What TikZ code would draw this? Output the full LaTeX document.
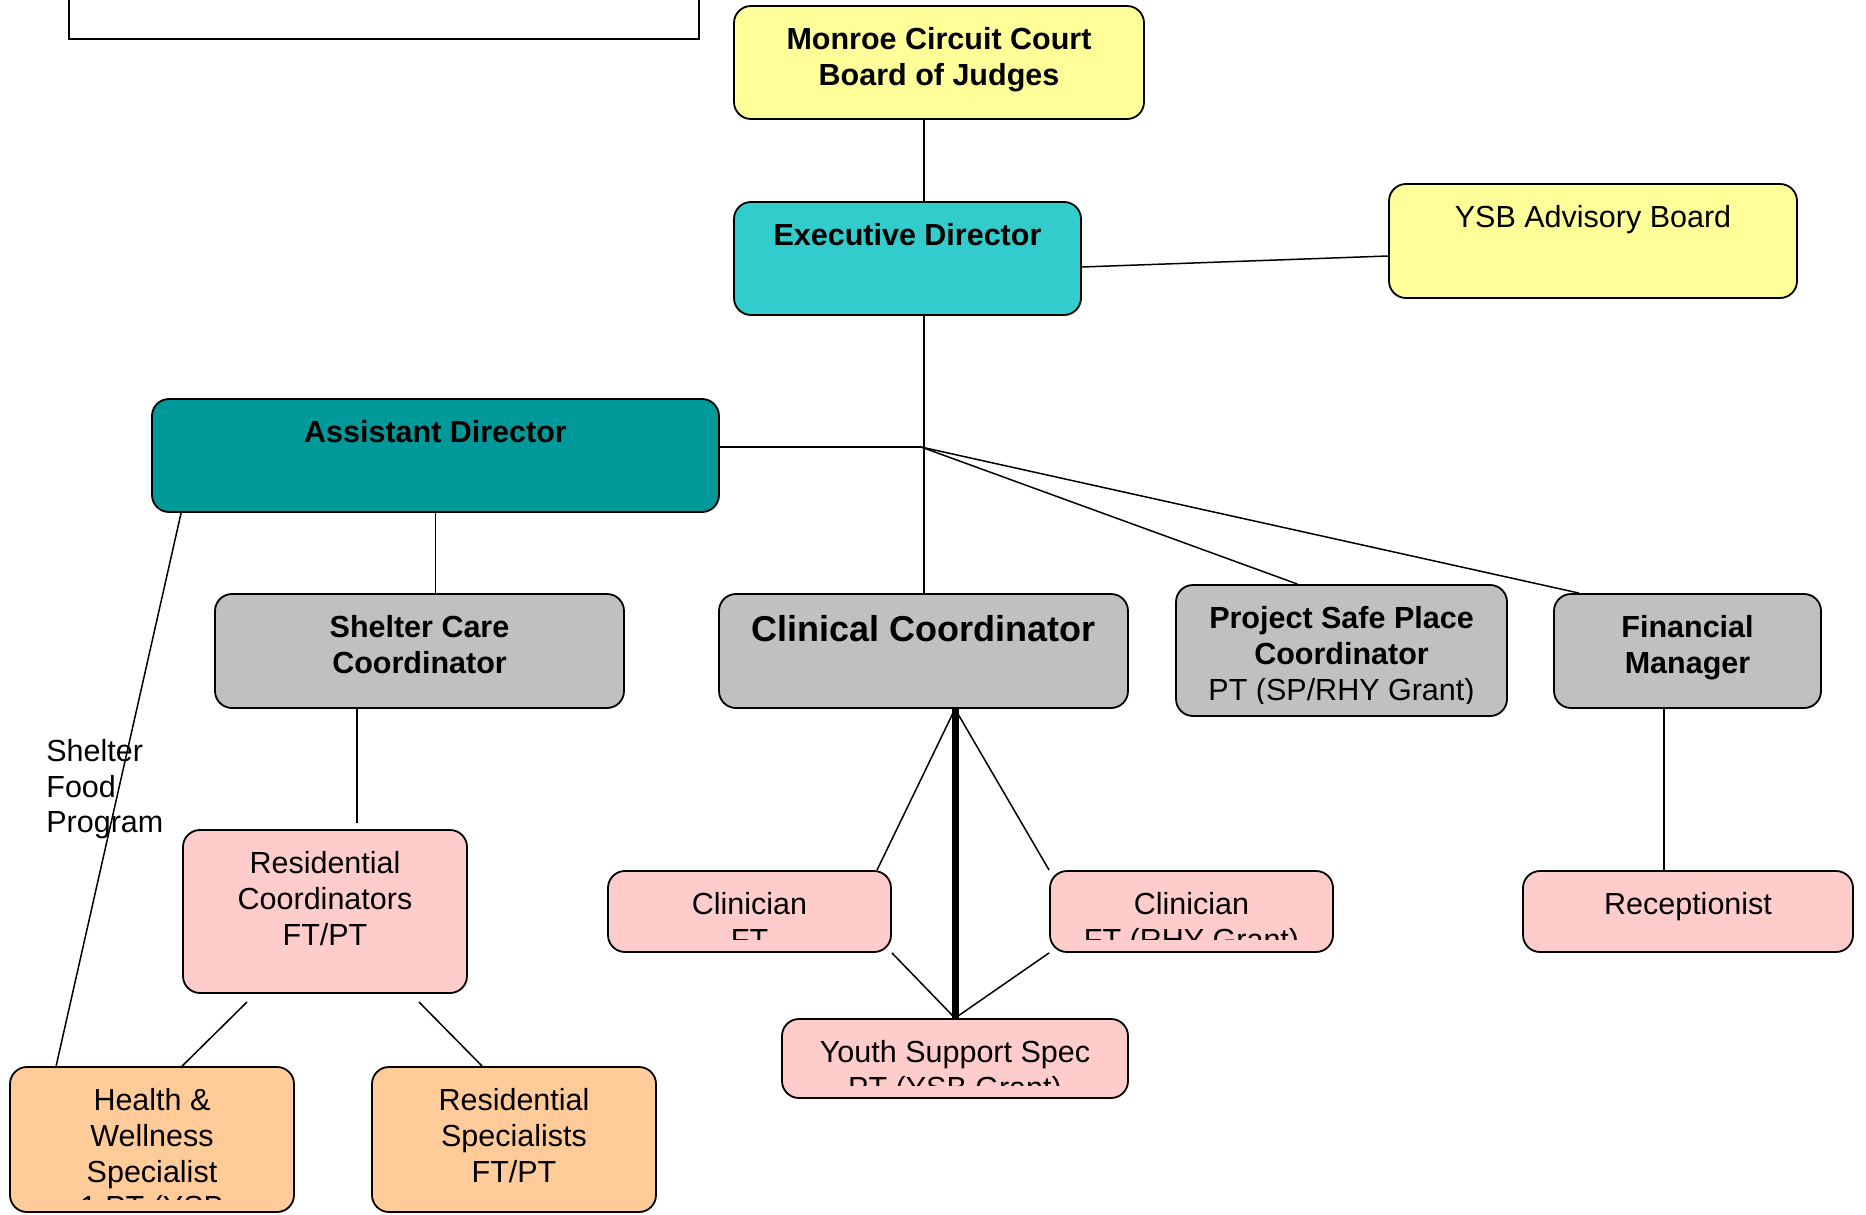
\documentclass[tikz,border=0pt]{standalone}
\usepackage{fontspec}
\setmainfont{Liberation Sans}
\usepackage{xcolor}
\definecolor{Court}{HTML}{FFFF99}
\definecolor{Exec}{HTML}{33CCCC}
\definecolor{Assist}{HTML}{009999}
\definecolor{Coord}{HTML}{C0C0C0}
\definecolor{Staff}{HTML}{FFCCCC}
\definecolor{Shelter}{HTML}{FFCC99}
\usepackage{tikz}
\usetikzlibrary{positioning,calc}

\begin{document}
\begin{tikzpicture}[
  x=0.5pt, y=-0.5pt,
  font=\fontsize{15.25pt}{17.85pt}\selectfont,
  unit/.style={draw, rounded corners=8.5pt, line width=0.9pt, inner sep=0pt},
  say/.style={path picture={
    \clip ([yshift=6.5pt]path picture bounding box.south west)
      rectangle (path picture bounding box.north east);
    \node[anchor=north, align=center, inner sep=0pt,
      minimum width=0pt, minimum height=0pt]
      at ([yshift=-10.4pt]path picture bounding box.north) {#1};}},
  link/.style={line width=0.75pt},
  trunk/.style={line width=3.5pt}
]
  \useasboundingbox (0,0) rectangle (1866,1214);
  \node[draw, line width=0.9pt, minimum width=315pt, minimum height=49.5pt]
    (legend) at (384,-10.5) {};
  \node[unit, fill=Court, minimum width=205pt, minimum height=56.5pt,
    say={\textbf{Monroe Circuit Court}\\\textbf{Board of Judges}}]
    (monroe) at (939,62.5) {};
  \node[unit, fill=Exec, minimum width=173.5pt, minimum height=56.5pt,
    say={\textbf{Executive Director}}] (exec) at (907.5,258.5) {};
  \node[unit, fill=Court, minimum width=204pt, minimum height=57pt,
    say={YSB Advisory Board}] (ysb) at (1593,241) {};
  \node[unit, fill=Assist, minimum width=283.5pt, minimum height=56.5pt,
    say={\textbf{Assistant Director}}] (asst) at (435.5,455.5) {};
  \node[unit, fill=Coord, minimum width=204.5pt, minimum height=57pt,
    say={\textbf{Shelter Care}\\\textbf{Coordinator}}] (shelter) at (419.5,651) {};
  \node[unit, fill=Coord, minimum width=204.5pt, minimum height=57pt,
    say={\fontsize{18pt}{21pt}\selectfont\bfseries Clinical Coordinator}]
    (clinical) at (923.5,651) {};
  \node[unit, fill=Coord, minimum width=165.5pt, minimum height=65.5pt,
    say={\textbf{Project Safe Place}\\\textbf{Coordinator}\\PT (SP/RHY Grant)}]
    (psp) at (1341.5,650.5) {};
  \node[unit, fill=Coord, minimum width=133.5pt, minimum height=57pt,
    say={\textbf{Financial}\\\textbf{Manager}}] (fin) at (1687.5,651) {};
  \node[unit, fill=Staff, minimum width=142pt, minimum height=81.5pt,
    say={Residential\\Coordinators\\FT/PT}] (rescoord) at (325,911.5) {};
  \node[unit, fill=Staff, minimum width=141.5pt, minimum height=40.5pt,
    say={Clinician\\FT}] (clin1) at (749.5,911.5) {};
  \node[unit, fill=Staff, minimum width=141.5pt, minimum height=40.5pt,
    say={Clinician\\FT (RHY Grant)}] (clin2) at (1191.5,911.5) {};
  \node[unit, fill=Staff, minimum width=165pt, minimum height=40.5pt,
    say={Receptionist}] (recep) at (1688,911.5) {};
  \node[unit, fill=Staff, minimum width=173pt, minimum height=39.5pt,
    say={Youth Support Spec\\PT (YSB Grant)}] (yss) at (955,1058.5) {};
  \node[unit, fill=Shelter, minimum width=142pt, minimum height=72.5pt,
    say={Health \&\\Wellness\\Specialist\\1 PT (YSB}] (hw) at (152,1139.5) {};
  \node[unit, fill=Shelter, minimum width=142pt, minimum height=72.5pt,
    say={Residential\\Specialists\\FT/PT}] (ressp) at (514,1139.5) {};
  \node[anchor=north west, align=left, inner sep=0pt]
    (food) at (46,739) {Shelter\\Food\\Program};

  \coordinate (hub) at (921,447);
  \coordinate (spine) at (924,0);
  \coordinate (resin) at (357,823);
  \coordinate (hwout) at (247,1002);
  \coordinate (rsout) at (419,1002);
  \draw[link] (monroe.south -| spine) -- (exec.north -| spine);
  \draw[link] ([yshift=-4.25pt]exec.east) -- ([yshift=-7.5pt]ysb.west);
  \draw[link] (exec.south -| spine) -- (clinical.north -| spine);
  \draw[link] (asst.east |- hub) -- (hub);
  \draw[link] (hub) -- ([xshift=-22pt]psp.north);
  \draw[link] (hub) -- ([xshift=13pt]fin.north west);
  \draw[link] (asst.south) -- (asst.south |- shelter.north);
  \draw[link] ([xshift=15pt]asst.south west) -- ([xshift=23.5pt]hw.north west);
  \draw[link] (shelter.south -| resin) -- (resin);
  \draw[link] (hwout) -- ([xshift=86.5pt]hw.north west);
  \draw[link] (rsout) -- ([xshift=55.5pt]ressp.north west);
  \draw[trunk] (yss.north |- clinical.south) -- (yss.north);
  \draw[link] (yss.north |- clinical.south) -- ([xshift=63.75pt]clin1.north);
  \draw[link] (yss.north |- clinical.south) -- (clin2.north west);
  \draw[link] (clin1.south east) -- (yss.north);
  \draw[link] (clin2.south west) -- (yss.north);
  \draw[link] ([xshift=-11.75pt]fin.south) -- ([xshift=-11.75pt]fin.south |- recep.north);
\end{tikzpicture}
\end{document}
